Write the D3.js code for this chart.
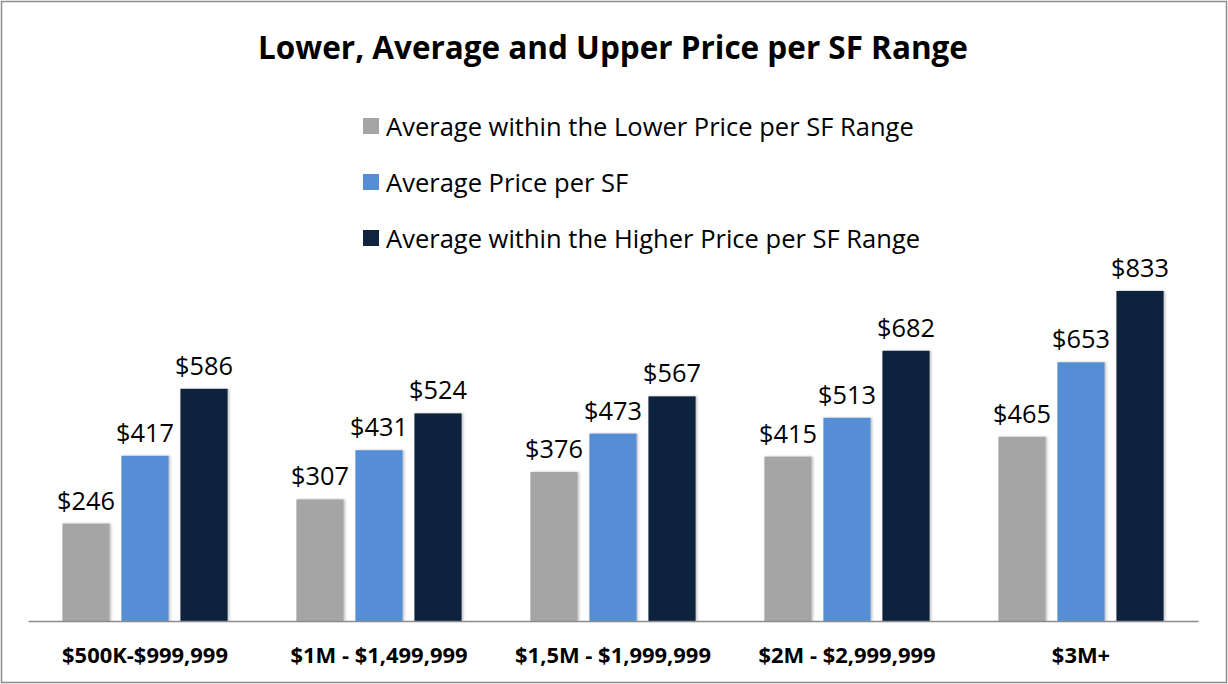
<!DOCTYPE html>
<html>
<head>
<meta charset="utf-8">
<script src="https://cdn.jsdelivr.net/npm/d3@7"></script>
<style>
  body { margin: 0; background: #fff; }
  svg text { font-family: "Open Sans", "Noto Sans", sans-serif; fill: #000; }
</style>
</head>
<body>
<div id="chart"></div>
<script>
// data
const categories = ['$500K-$999,999', '$1M - $1,499,999', '$1,5M - $1,999,999', '$2M - $2,999,999', '$3M+'];
const seriesNames = [
  'Average within the Lower Price per SF Range',
  'Average Price per SF',
  'Average within the Higher Price per SF Range'
];
const lowerValues = [246, 307, 376, 415, 465];
const averageValues = [417, 431, 473, 513, 653];
const higherValues = [586, 524, 567, 682, 833];
const titleText = 'Lower, Average and Upper Price per SF Range';

const colors = ['#A5A5A5', '#558ED5', '#10243E'];
const series = [lowerValues, averageValues, higherValues];

const width = 1228;
const height = 684;

const $svg = d3.select('#chart').append('svg')
  .attr('width', width)
  .attr('height', height);

// soft shadow like the original office chart
const defs = $svg.append('defs');
const f = defs.append('filter').attr('id', 'shadow')
  .attr('x', '-10%').attr('y', '-5%').attr('width', '130%').attr('height', '110%');
f.append('feDropShadow').attr('dx', 1.5).attr('dy', 0).attr('stdDeviation', 1.2)
  .attr('flood-color', '#000').attr('flood-opacity', 0.25);

// frame
$svg.append('rect')
  .attr('x', 1.5).attr('y', 1.5)
  .attr('width', width - 3).attr('height', height - 3)
  .attr('fill', '#fff').attr('stroke', '#8c8c8c').attr('stroke-width', 1.5);

// helper: shrink/grow font size so a text hits a target width
function fit(sel, target) {
  const w = sel.node().getComputedTextLength();
  const fs = parseFloat(sel.style('font-size'));
  const size = fs * target / w;
  sel.style('font-size', size + 'px');
  return size;
}

// title
const $title = $svg.append('text')
  .attr('x', 613).attr('y', 59)
  .attr('text-anchor', 'middle')
  .style('font-size', '28px').style('font-weight', 700)
  .text(titleText);
fit($title, 710);

// scales
const baseY = 621;
const scaleX = d3.scaleBand().domain(categories).range([28, 1198]);
const scaleSub = d3.scaleBand().domain(d3.range(series.length))
  .range([0, scaleX.bandwidth()]).paddingInner(0.2).paddingOuter(0.583);
const scaleY = d3.scaleLinear().domain([0, 900]).range([baseY, baseY - 900 * 0.3962]);

// legend
const $legend = $svg.append('g').attr('class', 'legend');
let legendSize = 21;
seriesNames.forEach((name, i) => {
  const y = 127 + i * 56;
  $legend.append('rect')
    .attr('x', 363).attr('y', y - 9).attr('width', 16).attr('height', 16)
    .attr('fill', colors[i]);
  const t = $legend.append('text')
    .attr('x', 386).attr('y', y + 9)
    .style('font-size', legendSize + 'px')
    .text(name);
  if (i === 0) legendSize = fit(t, 528);
});

// value label size: "$833" is about 58px wide
const probe = $svg.append('text').style('font-size', '24px').text('$833');
const labelSize = fit(probe, 58);
probe.remove();

// bars
const $vis = $svg.append('g').attr('class', 'g-vis');
categories.forEach((cat, ci) => {
  const $grp = $vis.append('g').attr('transform', `translate(${scaleX(cat)},0)`);
  series.forEach((vals, si) => {
    const v = vals[ci];
    $grp.append('rect')
      .attr('x', scaleSub(si))
      .attr('y', scaleY(v))
      .attr('width', scaleSub.bandwidth())
      .attr('height', baseY - scaleY(v))
      .attr('fill', colors[si])
      .attr('filter', 'url(#shadow)');
    $grp.append('text')
      .attr('x', scaleSub(si) + scaleSub.bandwidth() / 2)
      .attr('y', scaleY(v) - 14)
      .attr('text-anchor', 'middle')
      .style('font-size', labelSize + 'px')
      .text(`$${v}`);
  });
});

// x axis
const $axis = $svg.append('g')
  .attr('transform', `translate(0, ${baseY})`)
  .call(d3.axisBottom(scaleX).tickSize(0).tickPadding(26));
$axis.select('.domain').attr('stroke', '#8c8c8c').attr('stroke-width', 1.5);
const $ticks = $axis.selectAll('.tick text')
  .style('font-family', '"Open Sans", "Noto Sans", sans-serif')
  .style('font-size', '17px')
  .style('font-weight', 700)
  .attr('fill', '#000');
const tickSize = fit($ticks.filter((d, i) => i === 0), 166);
$ticks.style('font-size', tickSize + 'px');
</script>
</body>
</html>
